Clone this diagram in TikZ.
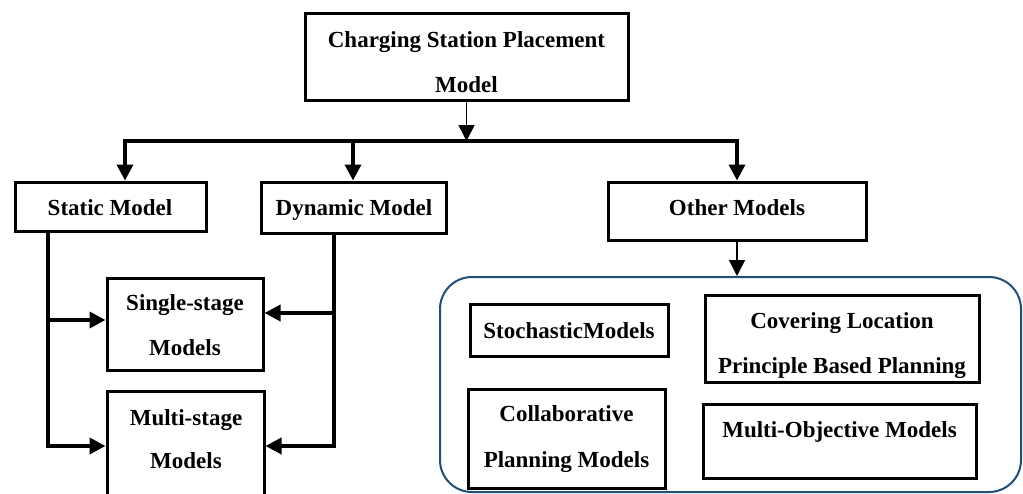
\documentclass[tikz,border=0pt]{standalone}
\usepackage{fontspec}
\setmainfont{Liberation Serif}
\usetikzlibrary{arrows.meta}
\definecolor{grpblue}{RGB}{31,78,121}
\tikzset{
  box/.style={draw=black, line width=3pt, inner sep=0pt},
  txt/.style={font=\fontsize{23}{45}\selectfont\bfseries, inner sep=0pt, anchor=base},
  conn/.style={line width=3.6pt},
  thinconn/.style={line width=1.6pt},
  tip/.style={-{Triangle[length=16pt,width=16pt]}},
}
\begin{document}
\begin{tikzpicture}[x=1pt,y=-1pt]
\clip (0,0) rectangle (1023,493);
% boxes
\node[box, minimum width=323pt, minimum height=87pt] (top) at (466.5,56.5) {};
\node[box, minimum width=191pt, minimum height=49pt] (static) at (110.5,206.5) {};
\node[box, minimum width=185pt, minimum height=51pt] (dynamic) at (353.5,207.5) {};
\node[box, minimum width=156pt, minimum height=92pt] (single) at (185,324) {};
\node[box, minimum width=157pt, minimum height=110pt] (multi) at (185.5,446) {};
\node[box, minimum width=258pt, minimum height=58pt] (other) at (737,211) {};
\node[draw=grpblue, line width=2pt, rounded corners=32pt, minimum width=581pt, minimum height=215pt, inner sep=0pt] (grp) at (730.5,384.5) {};
\node[box, minimum width=198pt, minimum height=52pt] (stoch) at (569,330) {};
\node[box, minimum width=274pt, minimum height=87pt] (cover) at (842,338.5) {};
\node[box, minimum width=197pt, minimum height=99pt] (collab) at (566.5,438.5) {};
\node[box, minimum width=273pt, minimum height=74pt] (mobj) at (839.5,441) {};
% texts
\node[txt] (topa) at (466.5,47) {Charging Station Placement};
\node[txt] (topb) at (466.5,92) {Model};
\node[txt] (statict) at (110,215) {Static Model};
\node[txt] (dynamict) at (354,215) {Dynamic Model};
\node[txt] (singlea) at (185,310) {Single-stage};
\node[txt] (singleb) at (185,355) {Models};
\node[txt] (multia) at (186,425) {Multi-stage};
\node[txt] (multib) at (186,468) {Models};
\node[txt] (othert) at (737,215) {Other Models};
\node[txt] (stocht) at (569,338) {StochasticModels};
\node[txt] (covera) at (842,328) {Covering Location};
\node[txt] (coverb) at (842,373) {Principle Based Planning};
\node[txt] (collaba) at (566.5,421) {Collaborative};
\node[txt] (collabb) at (566.5,467) {Planning Models};
\node[txt] (mobjt) at (839.5,437) {Multi-Objective Models};
% junction coordinates
\coordinate (jt) at (466.5,141);
\coordinate (bl) at (125,141);
\coordinate (bd) at (353,141);
\coordinate (br) at (737,141);
\coordinate (s0) at (48,231);
\coordinate (s1) at (48,320);
\coordinate (d0) at (334,233);
\coordinate (d1) at (334,313);
% connectors
\draw[conn, line cap=rect] (bl) -- (br);
\draw[thinconn, tip] (top.south) -- (jt);
\draw[conn, tip] (bl) -- (bl |- static.north);
\draw[conn, tip] (bd) -- (bd |- dynamic.north);
\draw[conn, tip] (br) -- (other.north);
\draw[thinconn, tip] (other.south) -- (other.south |- grp.north);
\draw[conn, tip] (s0) |- (multi.west);
\draw[conn, tip] (s1) -- (s1 -| single.west);
\draw[conn, tip] (d0) |- (multi.east);
\draw[conn, tip] (d1) -- (d1 -| single.east);
\end{tikzpicture}
\end{document}
